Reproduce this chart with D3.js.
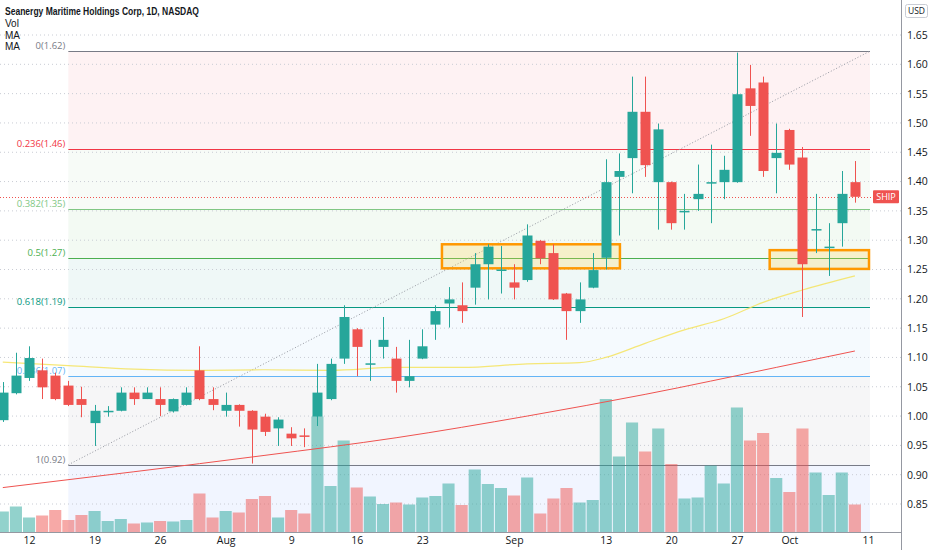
<!DOCTYPE html>
<html>
<head>
<meta charset="utf-8">
<script src="https://d3js.org/d3.v7.min.js"></script>
<style>
  body { margin: 0; background: #fff; }
  text { font-family: "Open Sans", "DejaVu Sans", sans-serif; }
</style>
</head>
<body>
<div id="chart"></div>
<script>
// --- data (SHIP, 1D) ---
const dates = [
  '2021-07-08','2021-07-09','2021-07-12','2021-07-13','2021-07-14','2021-07-15','2021-07-16',
  '2021-07-19','2021-07-20','2021-07-21','2021-07-22','2021-07-23',
  '2021-07-26','2021-07-27','2021-07-28','2021-07-29','2021-07-30',
  '2021-08-02','2021-08-03','2021-08-04','2021-08-05','2021-08-06',
  '2021-08-09','2021-08-10','2021-08-11','2021-08-12','2021-08-13',
  '2021-08-16','2021-08-17','2021-08-18','2021-08-19','2021-08-20',
  '2021-08-23','2021-08-24','2021-08-25','2021-08-26','2021-08-27',
  '2021-08-30','2021-08-31','2021-09-01','2021-09-02','2021-09-03',
  '2021-09-07','2021-09-08','2021-09-09','2021-09-10',
  '2021-09-13','2021-09-14','2021-09-15','2021-09-16','2021-09-17',
  '2021-09-20','2021-09-21','2021-09-22','2021-09-23','2021-09-24',
  '2021-09-27','2021-09-28','2021-09-29','2021-09-30','2021-10-01',
  '2021-10-04','2021-10-05','2021-10-06','2021-10-07','2021-10-08'
];
const futureDays = ['2021-10-11'];

const openP = [0.993,1.039,1.065,1.078,1.069,1.052,1.029, 0.988,1.008,1.009,1.040,1.029,
  1.029,1.008,1.019,1.078,1.029, 1.009,1.019,1.009,0.999,0.979, 0.970,0.967,0.999,1.029,1.098,
  1.148,1.088,1.118,1.098,1.060, 1.098,1.156,1.192,1.189,1.219, 1.259,1.249,1.228,1.232,1.299,
  1.278,1.209,1.179,1.219, 1.270,1.408,1.440,1.519,1.399, 1.399,1.348,1.370,1.398,1.399,
  1.399,1.559,1.569,1.440,1.488, 1.441,1.318,1.288,1.329,1.399];
const highP = [1.058,1.108,1.119,1.098,1.074,1.060,1.050, 1.019,1.017,1.049,1.049,1.049,
  1.049,1.030,1.049,1.119,1.049, 1.040,1.020,1.010,1.004,0.998, 0.981,0.979,1.089,1.098,1.189,
  1.150,1.130,1.169,1.118,1.130, 1.148,1.189,1.220,1.228,1.278, 1.293,1.290,1.259,1.327,1.300,
  1.293,1.210,1.228,1.278, 1.438,1.448,1.579,1.579,1.499, 1.400,1.379,1.429,1.463,1.444,
  1.620,1.599,1.579,1.499,1.490, 1.459,1.379,1.329,1.418,1.435];
const lowP = [0.990,1.037,1.060,1.029,1.027,1.017,0.998, 0.949,0.999,1.008,1.019,1.029,
  1.000,1.006,1.018,1.027,1.010, 0.999,0.982,0.919,0.966,0.949, 0.949,0.947,0.983,1.027,1.089,
  1.068,1.060,1.098,1.040,1.049, 1.097,1.130,1.151,1.159,1.190, 1.199,1.209,1.199,1.229,1.259,
  1.198,1.130,1.159,1.218, 1.250,1.308,1.380,1.408,1.318, 1.318,1.318,1.350,1.329,1.370,
  1.398,1.478,1.408,1.380,1.420, 1.169,1.278,1.239,1.289,1.364];
const closeP = [1.040,1.069,1.099,1.049,1.029,1.019,1.019, 1.009,1.009,1.040,1.029,1.040,
  1.019,1.029,1.040,1.029,1.019, 1.019,1.009,0.977,0.973,0.994, 0.962,0.965,1.040,1.089,1.169,
  1.118,1.090,1.130,1.060,1.068, 1.119,1.179,1.199,1.179,1.259, 1.289,1.250,1.219,1.308,1.269,
  1.199,1.179,1.199,1.249, 1.399,1.418,1.519,1.428,1.489, 1.329,1.350,1.379,1.399,1.420,
  1.549,1.529,1.418,1.449,1.429, 1.259,1.319,1.289,1.379,1.374];
// volume, millions of shares
const volume = [4.1,5.1,2.9,3.3,4.4,2.4,3.4, 4.2,2.2,2.6,1.7,1.9, 2.2,2.1,2.4,7.7,2.9,
  4.2,3.9,6.6,7.2,2.9, 4.4,3.7,23.1,9.2,18.3, 8.9,7.1,5.6,5.9,5.5, 6.9,7.2,9.7,5.4,12.5,
  9.6,8.8,7.3,10.9,3.7, 6.7,8.8,5.9,6.4, 26.6,15.1,21.9,16.1,20.7, 13.6,6.7,6.9,13.3,9.7,
  24.9,18.3,19.8,10.8,8.0, 20.7,11.9,7.4,11.9,5.5];

// moving averages (read at sample dates)
const maFastDates = ['2021-07-08','2021-07-15','2021-07-22','2021-07-29','2021-08-05','2021-08-12',
  '2021-08-19','2021-08-26','2021-09-02','2021-09-09','2021-09-13','2021-09-16','2021-09-21',
  '2021-09-24','2021-09-29','2021-10-04','2021-10-08'];
const maFast = [1.092,1.086,1.080,1.078,1.079,1.078,1.083,1.083,1.089,1.091,1.100,1.124,1.147,
  1.166,1.194,1.215,1.239];
const maSlowDates = ['2021-07-08','2021-07-22','2021-08-05','2021-08-19','2021-09-02','2021-09-16',
  '2021-09-30','2021-10-08'];
const maSlow = [0.878,0.905,0.933,0.963,1.000,1.037,1.083,1.111];

// fibonacci retracement
const fibHigh = 1.6225;
const fibLow = 0.917;
const fibFrom = '2021-07-15';
const fibLevels = [0, 0.236, 0.382, 0.5, 0.618, 0.786, 1, 1.618];
const fibColors = ['#787b86','#f23645','#81c784','#4caf50','#089981','#64b5f6','#787b86','#2962ff'];

// highlighted zones [from, to, top, bottom]
const zoneFrom = ['2021-08-25','2021-09-30'];
const zoneTo = ['2021-09-14','2021-10-11'];
const zoneTop = [1.293, 1.283];
const zoneBottom = [1.252, 1.251];

const priceTicks = [0.85,0.90,0.95,1.00,1.05,1.10,1.15,1.20,1.25,1.30,1.35,1.40,1.45,1.50,1.55,1.60,1.65];
const tickDates = ['2021-07-12','2021-07-19','2021-07-26','2021-08-02','2021-08-09','2021-08-16',
  '2021-08-23','2021-09-01','2021-09-13','2021-09-20','2021-09-27','2021-10-01','2021-10-11'];
const tickLabels = ['12','19','26','Aug','9','16','23','Sep','13','20','27','Oct','11'];

const legendLines = ['Seanergy Maritime Holdings Corp, 1D, NASDAQ', 'Vol', 'MA', 'MA'];

// --- layout ---
const W = 932, H = 550;
const paneRight = 901, paneBottom = 532;
const fibRight = 870;

const svg = d3.select('#chart').append('svg')
  .attr('width', W).attr('height', H)
  .style('display', 'block');

svg.append('defs').append('clipPath').attr('id', 'pane')
  .append('rect').attr('x', 0).attr('y', 0).attr('width', paneRight).attr('height', paneBottom);

const allDays = dates.concat(futureDays);
const x = d3.scalePoint().domain(allDays).range([2.8, 868]);
const step = x.step();
const y = d3.scaleLinear().domain([0.85, 1.65]).range([504, 35]);
const yVol = d3.scaleLinear().domain([0, 30]).range([paneBottom, paneBottom - 150]);

const pane = svg.append('g').attr('clip-path', 'url(#pane)');

// fib zones
const fibPrice = l => fibHigh - l * (fibHigh - fibLow);
const fx0 = x(fibFrom);
const zones = pane.append('g');
for (let i = 0; i < fibLevels.length - 1; i++) {
  const a = y(fibPrice(fibLevels[i]));
  const b = Math.min(paneBottom, y(fibPrice(fibLevels[i + 1])));
  zones.append('rect')
    .attr('x', fx0).attr('y', a)
    .attr('width', fibRight - fx0).attr('height', b - a)
    .attr('fill', fibColors[i + 1]).attr('fill-opacity', 0.065);
}

// grid
pane.append('g').selectAll('line').data(priceTicks).enter().append('line')
  .attr('x1', 0).attr('x2', paneRight)
  .attr('y1', d => y(d)).attr('y2', d => y(d))
  .attr('stroke', '#c9ccd4').attr('stroke-dasharray', '1,3').attr('stroke-width', 1);

// fib lines + labels (only levels inside the pane)
const fibG = pane.append('g');
fibLevels.forEach((l, i) => {
  const py = Math.round(y(fibPrice(l))) + 0.5;
  if (py > paneBottom) return;
  fibG.append('line')
    .attr('x1', fx0).attr('x2', fibRight).attr('y1', py).attr('y2', py)
    .attr('stroke', fibColors[i]).attr('stroke-width', 1);
  fibG.append('text')
    .attr('x', fx0 - 3).attr('y', py - 2.5)
    .attr('text-anchor', 'end')
    .attr('font-size', 9.5)
    .attr('fill', fibColors[i])
    .text(`${l}(${fibPrice(l).toFixed(2)})`);
});

// trend line of the fib tool
pane.append('line')
  .attr('x1', fx0).attr('y1', y(fibLow))
  .attr('x2', fibRight).attr('y2', y(fibHigh))
  .attr('stroke', '#9598a1').attr('stroke-width', 1).attr('stroke-dasharray', '1,2');

// volume
const isUp = i => closeP[i] >= openP[i];
pane.append('g').selectAll('rect').data(volume).enter().append('rect')
  .attr('x', (d, i) => x(dates[i]) - (step - 1) / 2)
  .attr('y', d => yVol(d))
  .attr('width', step - 1)
  .attr('height', d => paneBottom - yVol(d))
  .attr('fill', (d, i) => isUp(i) ? 'rgba(38,166,154,0.5)' : 'rgba(239,83,80,0.5)');

// moving averages
const maLine = d3.line().x(d => x(d[0])).y(d => y(d[1])).curve(d3.curveMonotoneX);
pane.append('path')
  .datum(maSlowDates.map((d, i) => [d, maSlow[i]]))
  .attr('d', maLine).attr('fill', 'none')
  .attr('stroke', '#ef5350').attr('stroke-width', 1);
pane.append('path')
  .datum(maFastDates.map((d, i) => [d, maFast[i]]))
  .attr('d', maLine).attr('fill', 'none')
  .attr('stroke', '#f5e35f').attr('stroke-width', 1.2).attr('stroke-opacity', 0.85);

// highlighted boxes
pane.append('g').selectAll('rect').data(zoneFrom).enter().append('rect')
  .attr('x', (d, i) => x(d) - step / 2)
  .attr('y', (d, i) => y(zoneTop[i]))
  .attr('width', (d, i) => x(zoneTo[i]) - x(d) + step / 2 + 1)
  .attr('height', (d, i) => y(zoneBottom[i]) - y(zoneTop[i]))
  .attr('fill', 'rgba(255,213,79,0.25)')
  .attr('stroke', '#ff9800').attr('stroke-width', 2.5);

// last price line
const last = closeP[closeP.length - 1];
pane.append('line')
  .attr('x1', 0).attr('x2', 873)
  .attr('y1', Math.round(y(last)) + 0.5).attr('y2', Math.round(y(last)) + 0.5)
  .attr('stroke', '#ef5350').attr('stroke-width', 1).attr('stroke-dasharray', '1,2');

// candles
const candles = pane.append('g').selectAll('g').data(dates).enter().append('g');
const colorOf = i => isUp(i) ? '#26a69a' : '#ef5350';
candles.append('line')
  .attr('x1', d => Math.round(x(d)) + 0.5).attr('x2', d => Math.round(x(d)) + 0.5)
  .attr('y1', (d, i) => y(highP[i])).attr('y2', (d, i) => y(lowP[i]))
  .attr('stroke', (d, i) => colorOf(i)).attr('stroke-width', 1);
candles.append('rect')
  .attr('x', d => Math.round(x(d)) - 4.5)
  .attr('y', (d, i) => y(Math.max(openP[i], closeP[i])))
  .attr('width', 10)
  .attr('height', (d, i) => Math.max(1.5, Math.abs(y(openP[i]) - y(closeP[i]))))
  .attr('fill', (d, i) => colorOf(i));

// SHIP label
svg.append('rect')
  .attr('x', 873).attr('y', y(last) - 6.5).attr('width', 26).attr('height', 13)
  .attr('rx', 1).attr('fill', '#ef5350');
svg.append('text')
  .attr('x', 886).attr('y', y(last) + 3.3).attr('text-anchor', 'middle')
  .attr('font-size', 9).attr('fill', '#fff').text('SHIP');

// axes
svg.append('line').attr('x1', paneRight + 0.5).attr('x2', paneRight + 0.5)
  .attr('y1', 0).attr('y2', H).attr('stroke', '#9598a1');
svg.append('line').attr('x1', 0).attr('x2', paneRight)
  .attr('y1', paneBottom + 0.5).attr('y2', paneBottom + 0.5).attr('stroke', '#9598a1');

const yAxis = svg.append('g')
  .attr('transform', `translate(${paneRight},0)`)
  .call(d3.axisRight(y).tickValues(priceTicks).tickFormat(d3.format('.2f')).tickSize(0).tickPadding(6));
yAxis.select('.domain').remove();
yAxis.selectAll('text').attr('font-size', 10.5).attr('fill', '#131722')
  .style('font-family', '"Open Sans", sans-serif');

const xAxis = svg.append('g')
  .attr('transform', `translate(0,${paneBottom})`)
  .call(d3.axisBottom(x).tickValues(tickDates).tickFormat((d, i) => tickLabels[i]).tickSize(0));
xAxis.select('.domain').remove();
xAxis.selectAll('text')
  .attr('y', 12).attr('dy', null)
  .attr('font-size', 10.5).attr('fill', '#131722')
  .style('font-family', '"Open Sans", sans-serif');

// USD tag
svg.append('rect').attr('x', 905.5).attr('y', 4.5).attr('width', 22).attr('height', 13)
  .attr('rx', 2).attr('fill', '#fff').attr('stroke', '#c9ccd4');
svg.append('text').attr('x', 916.5).attr('y', 14.2).attr('text-anchor', 'middle')
  .attr('font-size', 8.5).attr('fill', '#131722').text('USD');

// legend
svg.append('g').selectAll('text').data(legendLines).enter().append('text')
  .attr('x', 5).attr('y', (d, i) => 15 + i * 11.8)
  .attr('font-size', 10)
  .attr('font-weight', (d, i) => i === 0 ? 700 : 400)
  .attr('fill', '#131722')
  .attr('textLength', (d, i) => i === 0 ? 194 : null)
  .attr('lengthAdjust', 'spacingAndGlyphs')
  .style('font-family', '"Liberation Sans", Arial, sans-serif')
  .text(d => d);
</script>
</body>
</html>
